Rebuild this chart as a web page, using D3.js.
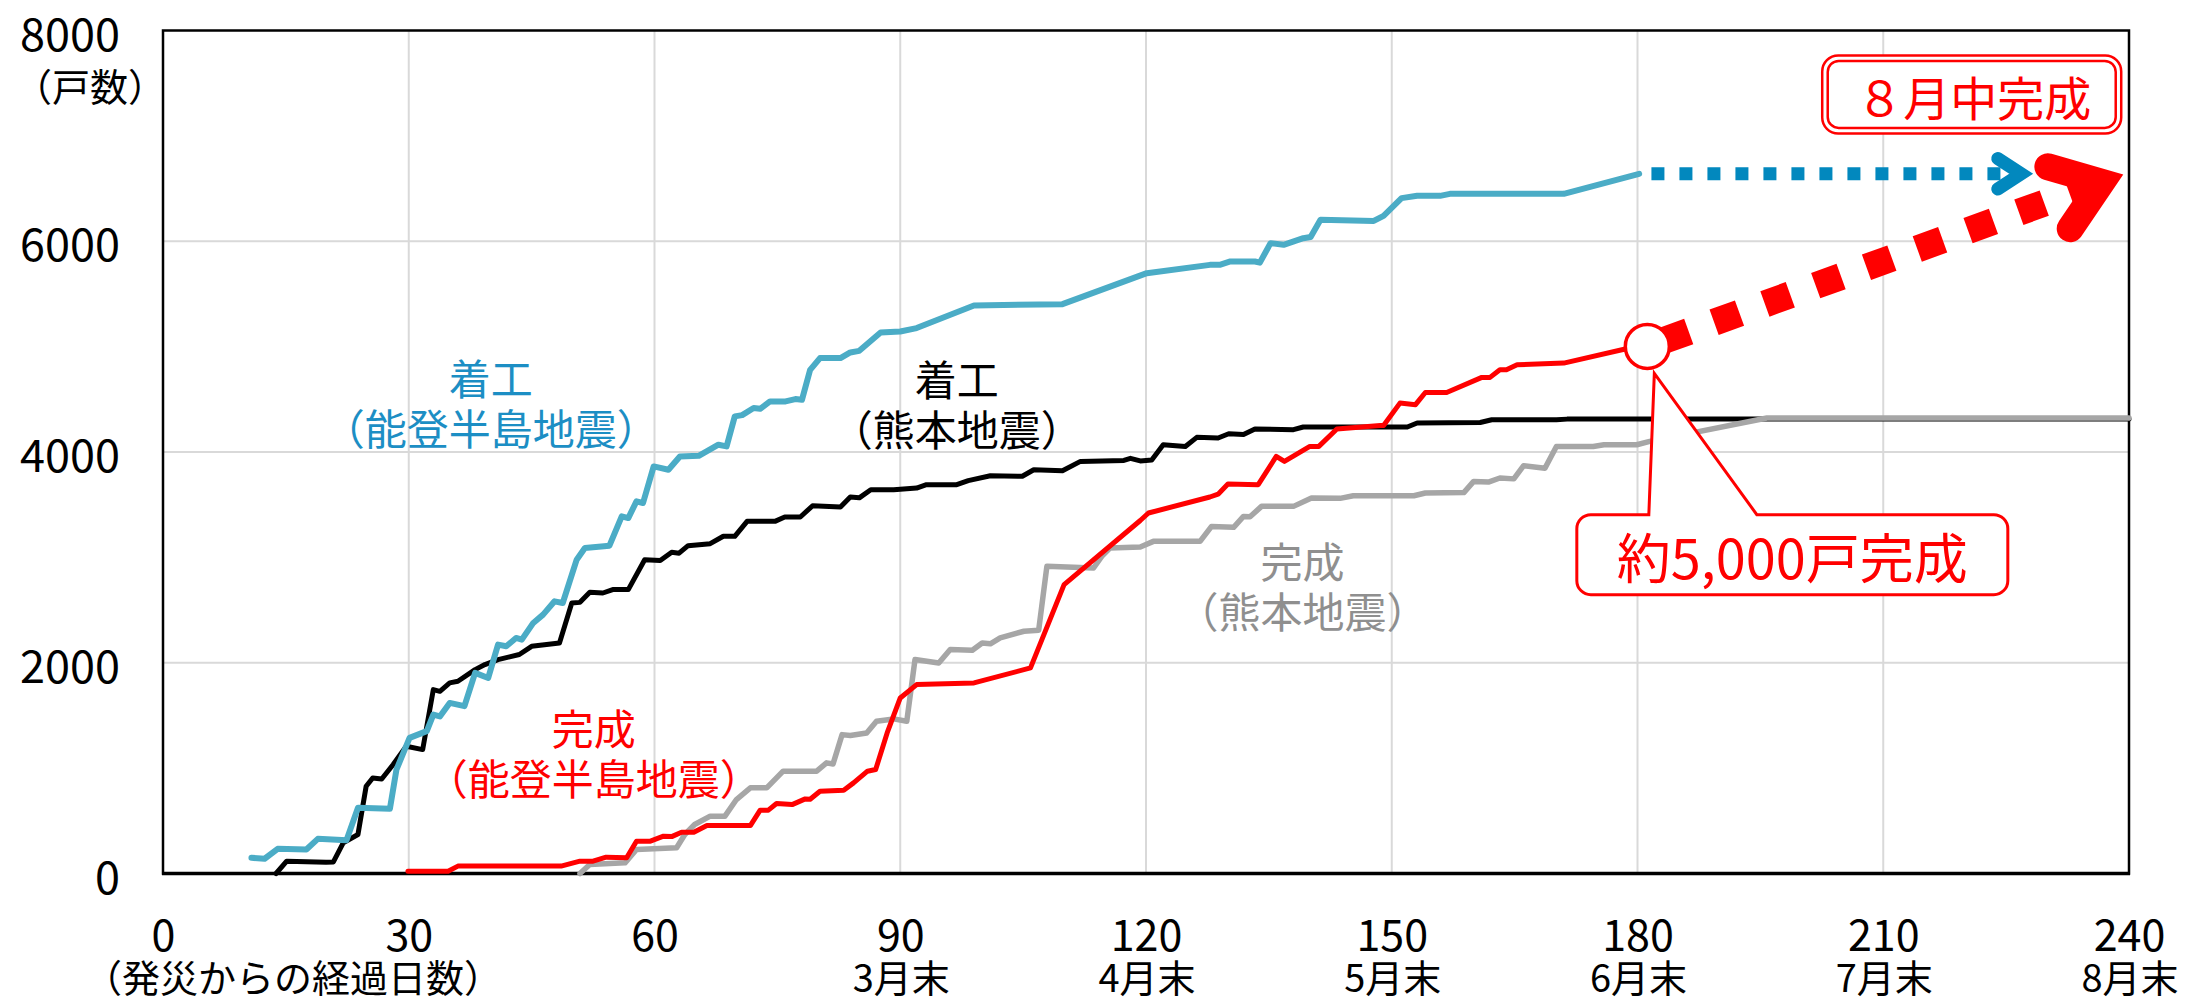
<!DOCTYPE html>
<html>
<head>
<meta charset="utf-8">
<script src="https://cdn.jsdelivr.net/npm/d3@7"></script>
<style>
  html, body { margin: 0; padding: 0; background: #fff; }
  svg text { font-family: "Noto Sans CJK JP", "Noto Sans", sans-serif; }
</style>
</head>
<body>
<svg id="chart" width="2189" height="1002"></svg>
<script>
// ---- data: [days since the quake, cumulative households] ----
const notoStarted = [
  [10.8,149],[12.4,140],[14.0,234],[17.5,228],[18.9,329],[22.4,316],[23.8,623],[27.7,614],
  [28.5,986],[30.1,1287],[32.2,1351],[33.0,1508],[33.8,1490],[35.0,1619],[36.8,1588],
  [38.1,1904],[39.7,1856],[40.9,2172],[41.9,2156],[43.1,2235],[43.8,2219],[45.2,2378],
  [46.4,2457],[47.8,2583],[48.8,2567],[50.5,2978],[51.5,3089],[54.5,3111],[56.0,3389],
  [56.8,3373],[57.8,3532],[58.6,3516],[59.9,3863],[61.7,3832],[63.1,3958],[65.4,3964],
  [67.8,4069],[68.8,4053],[69.8,4338],[70.7,4350],[72.1,4417],[72.9,4410],[74.1,4480],
  [76.0,4480],[77.2,4502],[78.0,4495],[79.0,4780],[80.2,4891],[82.7,4891],[83.9,4945],
  [85.0,4960],[87.6,5134],[90.0,5144],[92.0,5176],[99.0,5391],[109.8,5403],[120.1,5697],
  [127.8,5776],[129.0,5776],[130.3,5808],[133.3,5808],[133.9,5797],[135.2,5982],[136.8,5966],
  [139.2,6029],[140.1,6040],[141.3,6203],[147.8,6193],[149.0,6241],[151.2,6409],[153.1,6431],
  [155.9,6431],[157.1,6450],[171.0,6450],[180.2,6640]
];
const kumamotoStarted = [
  [13.8,0],[15.1,117],[19.9,107],[20.8,110],[22.0,291],[23.8,370],[24.8,828],[25.6,907],
  [26.7,897],[28.1,1034],[29.7,1208],[31.7,1176],[33.0,1745],[33.8,1729],[35.0,1809],
  [36.0,1824],[38.1,1935],[39.3,1983],[40.9,2030],[43.5,2078],[45.0,2156],[48.4,2188],
  [49.9,2567],[50.9,2573],[52.1,2668],[53.7,2662],[54.9,2694],[56.8,2694],[58.8,2978],
  [60.7,2970],[62.1,3048],[63.0,3040],[64.1,3111],[66.8,3130],[68.4,3200],[69.8,3200],
  [71.3,3342],[74.7,3342],[75.9,3383],[77.8,3383],[79.3,3490],[82.7,3478],[83.9,3573],
  [85.0,3565],[86.4,3642],[89.2,3642],[92.0,3658],[93.2,3690],[96.9,3690],[98.3,3728],
  [101.0,3775],[104.9,3770],[106.3,3832],[109.8,3822],[112.0,3911],[117.3,3920],[118.1,3940],
  [119.3,3915],[120.7,3925],[122.1,4069],[124.8,4053],[126.2,4139],[128.8,4133],[130.1,4173],
  [131.9,4165],[133.3,4218],[138.0,4212],[139.2,4237],[151.9,4237],[153.1,4275],[160.8,4280],
  [162.2,4306],[170.1,4306],[171.4,4312],[240,4312]
];
const notoCompleted = [
  [29.9,22],[34.8,22],[36.0,70],[48.6,70],[50.9,117],[52.5,117],[54.1,155],[56.6,149],
  [57.8,307],[59.5,307],[61.1,354],[62.1,350],[63.3,392],[64.8,392],[66.4,455],[71.7,455],
  [72.9,601],[73.9,601],[74.9,664],[76.8,654],[78.4,708],[79.0,705],[80.2,781],[83.1,791],
  [84.3,860],[86.0,971],[87.0,987],[88.4,1334],[90.0,1666],[92.0,1793],[99.0,1809],
  [105.9,1951],[110.0,2741],[119.3,3350],[120.3,3421],[127.8,3573],[128.8,3600],[130.0,3696],
  [133.7,3690],[135.9,3958],[136.9,3911],[140.0,4053],[141.1,4053],[143.3,4218],[148.6,4252],
  [149.0,4252],[151.0,4464],[152.9,4449],[154.1,4565],[156.7,4565],[161.0,4708],[162.0,4708],
  [163.2,4780],[164.0,4780],[165.3,4828],[171.0,4844],[178.5,4977],[181.2,5002]
];
const kumamotoCompleted = [
  [50.9,0],[52.1,85],[56.4,101],[57.8,228],[62.7,244],[63.7,370],[64.9,465],[66.8,544],
  [68.6,544],[70.0,702],[71.7,813],[73.7,813],[75.7,971],[79.8,971],[81.0,1050],[81.8,1040],
  [82.9,1318],[83.9,1310],[85.9,1334],[87.1,1445],[89.2,1467],[90.8,1445],[91.8,2030],
  [94.7,1998],[96.1,2125],[98.8,2119],[100.0,2188],[101.0,2180],[102.2,2236],[105.1,2299],
  [106.9,2309],[107.9,2915],[113.6,2899],[114.6,3010],[115.6,3089],[119.3,3099],[120.9,3152],
  [126.6,3152],[128.0,3294],[130.7,3285],[131.9,3389],[132.7,3385],[134.1,3484],[138.0,3484],
  [140.2,3563],[143.7,3560],[145.3,3585],[152.7,3585],[154.1,3611],[158.8,3615],[160.0,3721],
  [161.8,3715],[163.2,3753],[164.9,3745],[166.1,3870],[168.7,3846],[170.1,4053],[174.6,4053],
  [175.9,4069],[179.9,4069],[181.5,4101],[195.8,4322],[240,4322]
];

// outlook arrows: [day, households] from → to
const startOutlook = [[181.7, 6640], [228.3, 6640]];
const completeOutlook = [[181.2, 5002], [239.3, 6633]];
const currentCompleted = [181.2, 5002];

// axes
const xTicks = [0, 30, 60, 90, 120, 150, 180, 210, 240];
const monthTicks = [90, 120, 150, 180, 210, 240];
const monthNames = ["3月末", "4月末", "5月末", "6月末", "7月末", "8月末"];
const yTicks = [0, 2000, 4000, 6000, 8000];
const gridDays = [30, 60, 90, 120, 150, 180, 210];
const gridValues = [2000, 4000, 6000];

// ---- drawing ----
const svg = d3.select("#chart");
const x = d3.scaleLinear().domain([0, 240]).range([163, 2129]);
const y = d3.scaleLinear().domain([0, 8000]).range([873.5, 30.5]);

const colors = {
  notoLine: "#4BACC6", notoText: "#1C8EC4", notoArrow: "#0288BE",
  kumaStart: "#000000", kumaDone: "#A6A6A6", kumaDoneText: "#8F8F8F",
  red: "#FF0000", grid: "#D9D9D9"
};

// grid
svg.append("g").selectAll("line").data(gridDays).join("line")
  .attr("x1", d => x(d)).attr("x2", d => x(d))
  .attr("y1", y(0)).attr("y2", y(8000))
  .attr("stroke", colors.grid).attr("stroke-width", 2);
svg.append("g").selectAll("line").data(gridValues).join("line")
  .attr("x1", x(0)).attr("x2", x(240))
  .attr("y1", d => y(d)).attr("y2", d => y(d))
  .attr("stroke", colors.grid).attr("stroke-width", 2);

// plot frame
svg.append("rect")
  .attr("x", x(0)).attr("y", y(8000))
  .attr("width", x(240) - x(0)).attr("height", y(0) - y(8000))
  .attr("fill", "none").attr("stroke", "#000").attr("stroke-width", 2.5);

// y axis
const yAxis = svg.append("g").attr("transform", `translate(${x(0)},0)`)
  .call(d3.axisLeft(y).tickValues(yTicks).tickSize(0).tickPadding(43).tickFormat(d3.format("d")));
yAxis.select(".domain").remove();
yAxis.selectAll("text")
  .attr("dy", null).attr("dominant-baseline", "central")
  .attr("font-size", 45).attr("fill", "#000")
  .style("font-family", '"Noto Sans CJK JP", "Noto Sans", sans-serif');

// x axis
const xAxis = svg.append("g").attr("transform", `translate(0,${y(0)})`)
  .call(d3.axisBottom(x).tickValues(xTicks).tickSize(0).tickFormat(d3.format("d")));
xAxis.select(".domain").remove();
xAxis.selectAll("text")
  .attr("dy", null).attr("y", 58).attr("dominant-baseline", "central")
  .attr("font-size", 43).attr("fill", "#000")
  .style("font-family", '"Noto Sans CJK JP", "Noto Sans", sans-serif');

svg.append("g").selectAll("text").data(monthTicks).join("text")
  .attr("x", d => x(d) + 1).attr("y", 975)
  .attr("text-anchor", "middle").attr("dominant-baseline", "central")
  .attr("font-size", 38).attr("fill", "#000")
  .text((d, i) => monthNames[i]);

svg.append("text").attr("x", 293).attr("y", 975)
  .attr("text-anchor", "middle").attr("dominant-baseline", "central")
  .attr("font-size", 38).text("（発災からの経過日数）");

svg.append("text").attr("x", 90).attr("y", 84)
  .attr("text-anchor", "middle").attr("dominant-baseline", "central")
  .attr("font-size", 38).text("（戸数）");

// bottom axis line
svg.append("line")
  .attr("x1", x(0) - 1).attr("x2", x(240) + 1)
  .attr("y1", y(0)).attr("y2", y(0))
  .attr("stroke", "#000").attr("stroke-width", 3.5);

// series
const line = d3.line().x(d => x(d[0])).y(d => y(d[1]));
const series = [
  { data: kumamotoStarted, color: colors.kumaStart, width: 5 },
  { data: kumamotoCompleted, color: colors.kumaDone, width: 5.5 },
  { data: notoCompleted, color: colors.red, width: 5 },
  { data: notoStarted, color: colors.notoLine, width: 6 }
];
svg.append("g").selectAll("path").data(series).join("path")
  .attr("d", d => line(d.data))
  .attr("fill", "none")
  .attr("stroke", d => d.color)
  .attr("stroke-width", d => d.width)
  .attr("stroke-linejoin", "round")
  .attr("stroke-linecap", "round");

// outlook arrows (dotted shaft + open arrowhead)
function outlookArrow(pts, color, width, dash, half, len, startGap) {
  const fx = x(pts[0][0]), fy = y(pts[0][1]);
  const tx = x(pts[1][0]), ty = y(pts[1][1]);
  const ang = Math.atan2(ty - fy, tx - fx);
  const off = (width / 2) / Math.sin(half);
  const cx = tx - off * Math.cos(ang), cy = ty - off * Math.sin(ang);
  const sx = fx + startGap * Math.cos(ang), sy = fy + startGap * Math.sin(ang);
  const g = svg.append("g");
  g.append("line")
    .attr("x1", sx).attr("y1", sy).attr("x2", cx - width * 0.6 * Math.cos(ang)).attr("y2", cy - width * 0.6 * Math.sin(ang))
    .attr("stroke", color).attr("stroke-width", width)
    .attr("stroke-dasharray", dash).attr("stroke-linecap", "butt");
  const back = ang + Math.PI;
  const p1 = [cx + len * Math.cos(back - half), cy + len * Math.sin(back - half)];
  const p2 = [cx + len * Math.cos(back + half), cy + len * Math.sin(back + half)];
  g.append("path")
    .attr("d", `M${p1[0]},${p1[1]}L${cx},${cy}L${p2[0]},${p2[1]}`)
    .attr("fill", "none").attr("stroke", color).attr("stroke-width", width)
    .attr("stroke-linejoin", "miter").attr("stroke-miterlimit", 10)
    .attr("stroke-linecap", "round");
}
outlookArrow(startOutlook, colors.notoArrow, 13, "13 15", 33 * Math.PI / 180, 28, 0);
outlookArrow(completeOutlook, colors.red, 27, "27 27", 36 * Math.PI / 180, 56, 17);

// current completion marker
svg.append("circle")
  .attr("cx", x(currentCompleted[0])).attr("cy", y(currentCompleted[1]))
  .attr("r", 22).attr("fill", "#fff")
  .attr("stroke", colors.red).attr("stroke-width", 3.5);

// series labels
const seriesLabels = [
  { lines: ["着工", "（能登半島地震）"], day: 40.0, value: 4723, color: colors.notoText },
  { lines: ["着工", "（熊本地震）"], day: 96.9, value: 4714, color: "#000" },
  { lines: ["完成", "（熊本地震）"], day: 139.1, value: 2988, color: colors.kumaDoneText },
  { lines: ["完成", "（能登半島地震）"], day: 52.6, value: 1404, color: colors.red }
];
seriesLabels.forEach(l => {
  const t = svg.append("text")
    .attr("x", x(l.day)).attr("y", y(l.value))
    .attr("text-anchor", "middle").attr("dominant-baseline", "central")
    .attr("font-size", 42).attr("fill", l.color);
  l.lines.forEach((s, i) => {
    t.append("tspan").attr("x", x(l.day)).attr("dy", i === 0 ? 0 : 50).text(s);
  });
});

// callout: about 5,000 completed
(function () {
  const cx = x(198.9), cy = y(3026);
  const w = 431, h = 80, r = 14;
  const bx = cx - w / 2, by = cy - h / 2;
  const tipX = x(currentCompleted[0]) + 7, tipY = y(currentCompleted[1]) + 27;
  const pl = 72, pr = 180;
  const p = d3.path();
  p.moveTo(bx + r, by);
  p.lineTo(bx + pl, by);
  p.lineTo(tipX, tipY);
  p.lineTo(bx + pr, by);
  p.lineTo(bx + w - r, by);
  p.arcTo(bx + w, by, bx + w, by + r, r);
  p.lineTo(bx + w, by + h - r);
  p.arcTo(bx + w, by + h, bx + w - r, by + h, r);
  p.lineTo(bx + r, by + h);
  p.arcTo(bx, by + h, bx, by + h - r, r);
  p.lineTo(bx, by + r);
  p.arcTo(bx, by, bx + r, by, r);
  p.closePath();
  svg.append("path").attr("d", p.toString())
    .attr("fill", "#fff").attr("stroke", colors.red).attr("stroke-width", 3)
    .attr("stroke-linejoin", "miter");
  svg.append("text").attr("x", cx).attr("y", cy + 1)
    .attr("text-anchor", "middle").attr("dominant-baseline", "central")
    .attr("font-size", 54).attr("fill", colors.red).text("約5,000戸完成");
})();

// callout: completion in mid-August (double frame)
(function () {
  const cx = x(220.8), cy = y(7393);
  svg.append("rect")
    .attr("x", cx - 149.5).attr("y", cy - 39).attr("width", 299).attr("height", 78)
    .attr("rx", 16).attr("fill", "#fff").attr("stroke", colors.red).attr("stroke-width", 2.5);
  svg.append("rect")
    .attr("x", cx - 144).attr("y", cy - 33.5).attr("width", 288).attr("height", 67)
    .attr("rx", 11).attr("fill", "none").attr("stroke", colors.red).attr("stroke-width", 2.5);
  svg.append("text").attr("x", cx + 2).attr("y", cy + 1)
    .attr("text-anchor", "middle").attr("dominant-baseline", "central")
    .attr("font-size", 47).attr("fill", colors.red).text("８月中完成");
})();
</script>
</body>
</html>
